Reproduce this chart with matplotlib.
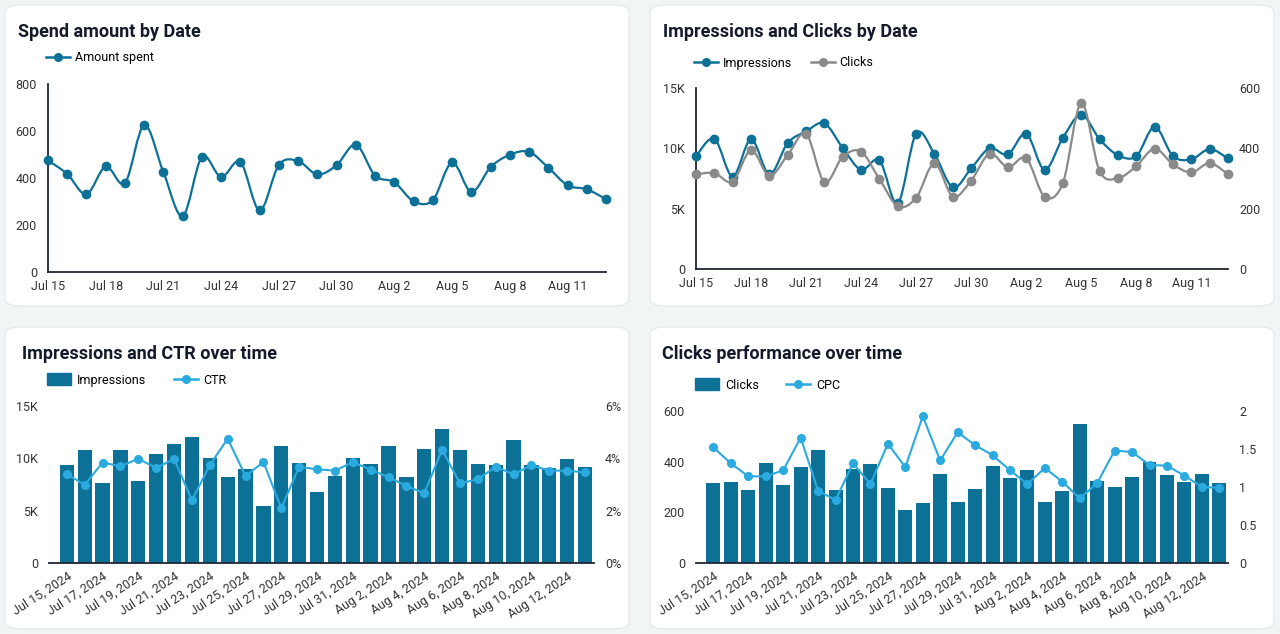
import numpy as np
import matplotlib
matplotlib.use('Agg')
from matplotlib import pyplot as plt
from matplotlib.patches import FancyBboxPatch, PathPatch, Patch
from matplotlib.path import Path
from matplotlib.lines import Line2D
from matplotlib.ticker import FuncFormatter

plt.rcParams['font.family'] = ['Roboto', 'DejaVu Sans']

# data, Jul 15 - Aug 13, 2024
dates_short = ['Jul 15', 'Jul 16', 'Jul 17', 'Jul 18', 'Jul 19', 'Jul 20', 'Jul 21', 'Jul 22',
               'Jul 23', 'Jul 24', 'Jul 25', 'Jul 26', 'Jul 27', 'Jul 28', 'Jul 29', 'Jul 30',
               'Jul 31', 'Aug 1', 'Aug 2', 'Aug 3', 'Aug 4', 'Aug 5', 'Aug 6', 'Aug 7',
               'Aug 8', 'Aug 9', 'Aug 10', 'Aug 11', 'Aug 12', 'Aug 13']
dates_long = [d + ', 2024' for d in dates_short]

spend = [475, 417, 331, 449, 379, 625, 424, 238, 489, 404, 468, 262, 456, 472, 415,
         455, 542, 410, 382, 301, 306, 466, 341, 446, 499, 511, 444, 369, 352, 310]
impressions = [9340, 10800, 7660, 10750, 7850, 10450, 11400, 12070, 10020, 8220,
               9000, 5450, 11220, 9530, 6760, 8340, 10000, 9490, 11220, 8230,
               10870, 12790, 10760, 9430, 9350, 11780, 9360, 9090, 9940, 9160]
clicks = [314, 318, 290, 394, 309, 378, 448, 288, 372, 389, 298, 208, 236, 350, 240,
          293, 382, 337, 367, 240, 285, 550, 325, 301, 341, 399, 347, 320, 351, 314]
ctr = [3.39, 2.99, 3.84, 3.70, 3.98, 3.63, 3.98, 2.40, 3.74, 4.75, 3.32, 3.86, 2.10, 3.68, 3.58,
       3.53, 3.85, 3.57, 3.28, 2.95, 2.66, 4.33, 3.04, 3.20, 3.68, 3.39, 3.74, 3.53, 3.53, 3.46]
cpc = [1.52, 1.31, 1.14, 1.14, 1.22, 1.65, 0.95, 0.83, 1.31, 1.04, 1.57, 1.26, 1.93, 1.35, 1.72,
       1.55, 1.42, 1.22, 1.04, 1.25, 1.07, 0.85, 1.05, 1.48, 1.46, 1.29, 1.28, 1.15, 1.00, 0.99]

DARK = '#0d7096'
LIGHT = '#2aaade'
GREY = '#8a8a8a'
AXIS = '#1f2633'
TXT = '#333333'
W, H = 1280, 634

fig = plt.figure(figsize=(12.8, 6.34), dpi=100, facecolor='#f1f5f6')


def fx(px):
    return px / W


def fy(py):
    return 1 - py / H


def card(x0, y0, x1, y1):
    fig.patches.append(FancyBboxPatch((fx(x0), fy(y1)), fx(x1 - x0), (y1 - y0) / H,
                                      boxstyle='round,pad=0,rounding_size=0.012',
                                      transform=fig.transFigure, facecolor='white',
                                      edgecolor='#e2e8ea', linewidth=0.8, zorder=-5))


def smooth(ax, x, y, color, lw=1.6):
    # catmull-rom style curve through the points
    n = len(x)
    verts = [(x[0], y[0])]
    codes = [Path.MOVETO]
    for i in range(n - 1):
        a = max(i - 1, 0)
        b = min(i + 2, n - 1)
        c1 = (x[i] + (x[i + 1] - x[a]) / 6, y[i] + (y[i + 1] - y[a]) / 6)
        c2 = (x[i + 1] - (x[b] - x[i]) / 6, y[i + 1] - (y[b] - y[i]) / 6)
        verts += [c1, c2, (x[i + 1], y[i + 1])]
        codes += [Path.CURVE4] * 3
    ax.add_patch(PathPatch(Path(verts, codes), facecolor='none', edgecolor=color,
                           lw=lw, clip_on=False))
    ax.plot(x, y, 'o', color=color, ms=6, clip_on=False, zorder=3)


def style(ax, left=True):
    for s in ['top', 'right']:
        ax.spines[s].set_visible(False)
    ax.spines['left'].set_visible(left)
    ax.spines['bottom'].set_color(AXIS)
    ax.spines['left'].set_color(AXIS)
    ax.spines['bottom'].set_linewidth(1.3)
    ax.spines['left'].set_linewidth(1.3)
    ax.tick_params(length=0, labelsize=9, colors=TXT, pad=8)
    ax.patch.set_alpha(0)


def twin_style(ax):
    for s in ax.spines.values():
        s.set_visible(False)
    ax.tick_params(length=0, labelsize=9, colors=TXT, pad=8)


def kfmt(v, pos):
    return '0' if v == 0 else '%dK' % (v / 1000)


def title(px, py, text):
    fig.text(fx(px), fy(py), text, fontsize=13, fontweight='bold', color='#141a2a', va='center')


card(5, 5, 629, 306)
card(650, 5, 1274, 306)
card(5, 327, 629, 629)
card(650, 327, 1274, 629)

x = np.arange(len(dates_short))

# panel 1 - spend
title(18, 32, 'Spend amount by Date')
ax1 = fig.add_axes([fx(48), fy(272), fx(606 - 48), (272 - 84) / H])
smooth(ax1, x, spend, DARK)
ax1.set_xlim(0, 29)
ax1.set_ylim(0, 800)
ax1.set_yticks([0, 200, 400, 600, 800])
ax1.set_xticks(x[::3])
ax1.set_xticklabels(dates_short[::3])
style(ax1)
ax1.tick_params(axis='x', pad=6)
fig.legend(handles=[Line2D([], [], color=DARK, marker='o', ms=5.5, lw=1.8, label='Amount spent')],
           loc='center left', bbox_to_anchor=(fx(46), fy(58)), frameon=False, fontsize=9,
           handlelength=1.9, handletextpad=0.4, borderpad=0, borderaxespad=0)

# panel 2 - impressions and clicks
title(663, 32, 'Impressions and Clicks by Date')
ax2 = fig.add_axes([fx(696), fy(269), fx(1228 - 696), (269 - 88) / H])
smooth(ax2, x, impressions, DARK)
ax2.set_xlim(0, 29)
ax2.set_ylim(0, 15000)
ax2.set_yticks([0, 5000, 10000, 15000])
ax2.yaxis.set_major_formatter(FuncFormatter(kfmt))
ax2.set_xticks(x[::3])
ax2.set_xticklabels(dates_short[::3])
style(ax2)
ax2.tick_params(axis='x', pad=6)
ax2b = ax2.twinx()
smooth(ax2b, x, clicks, GREY)
ax2b.set_ylim(0, 600)
ax2b.set_yticks([0, 200, 400, 600])
twin_style(ax2b)
fig.legend(handles=[Line2D([], [], color=DARK, marker='o', ms=5.5, lw=1.8, label='Impressions'),
                    Line2D([], [], color=GREY, marker='o', ms=5.5, lw=1.8, label='Clicks')],
           loc='center left', bbox_to_anchor=(fx(694), fy(63)), frameon=False, fontsize=9, ncol=2,
           handlelength=1.9, handletextpad=0.4, columnspacing=1.5, borderpad=0, borderaxespad=0)

# panel 3 - impressions and CTR
title(22, 354, 'Impressions and CTR over time')
ax3 = fig.add_axes([fx(49), fy(563), fx(594 - 49), (563 - 406) / H])
ax3.bar(x, impressions, width=0.8, color=DARK)
ax3.set_xlim(-1.0, 29.5)
ax3.set_ylim(0, 15000)
ax3.set_yticks([0, 5000, 10000, 15000])
ax3.yaxis.set_major_formatter(FuncFormatter(kfmt))
ax3.set_xticks(x[::2])
ax3.set_xticklabels(dates_long[::2], rotation=33, ha='right', va='top', rotation_mode='anchor')
style(ax3, left=False)
ax3.tick_params(axis='x', pad=5)
ax3b = ax3.twinx()
ax3b.plot(x, ctr, color=LIGHT, marker='o', ms=5.5, lw=1.5)
ax3b.set_ylim(0, 6)
ax3b.set_yticks([0, 2, 4, 6])
ax3b.yaxis.set_major_formatter(FuncFormatter(lambda v, p: '%d%%' % v))
twin_style(ax3b)
fig.legend(handles=[Patch(color=DARK, label='Impressions'),
                    Line2D([], [], color=LIGHT, marker='o', ms=5.5, lw=1.8, label='CTR')],
           loc='center left', bbox_to_anchor=(fx(47), fy(380)), frameon=False, fontsize=9, ncol=2,
           handlelength=1.9, handleheight=1.1, handletextpad=0.5, columnspacing=2.2,
           borderpad=0, borderaxespad=0)

# panel 4 - clicks and CPC
title(662, 354, 'Clicks performance over time')
ax4 = fig.add_axes([fx(696), fy(563), fx(1228 - 696), (563 - 411) / H])
ax4.bar(x, clicks, width=0.8, color=DARK)
ax4.set_xlim(-1.0, 29.5)
ax4.set_ylim(0, 600)
ax4.set_yticks([0, 200, 400, 600])
ax4.set_xticks(x[::2])
ax4.set_xticklabels(dates_long[::2], rotation=33, ha='right', va='top', rotation_mode='anchor')
style(ax4, left=False)
ax4.tick_params(axis='x', pad=5)
ax4b = ax4.twinx()
ax4b.plot(x, cpc, color=LIGHT, marker='o', ms=5.5, lw=1.5)
ax4b.set_ylim(0, 2)
ax4b.set_yticks([0, 0.5, 1, 1.5, 2])
ax4b.set_yticklabels(['0', '0.5', '1', '1.5', '2'])
twin_style(ax4b)
fig.legend(handles=[Patch(color=DARK, label='Clicks'),
                    Line2D([], [], color=LIGHT, marker='o', ms=5.5, lw=1.8, label='CPC')],
           loc='center left', bbox_to_anchor=(fx(695), fy(385)), frameon=False, fontsize=9, ncol=2,
           handlelength=1.9, handleheight=1.1, handletextpad=0.5, columnspacing=2.2,
           borderpad=0, borderaxespad=0)

fig.savefig('out.png', dpi=100, facecolor=fig.get_facecolor())
